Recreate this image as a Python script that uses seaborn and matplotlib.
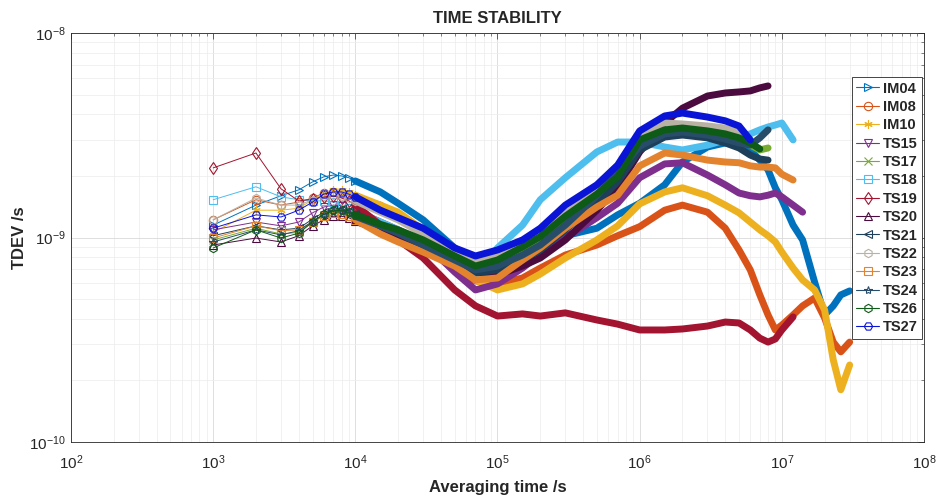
import numpy as np
import matplotlib
matplotlib.use("Agg")
import matplotlib.pyplot as plt
from matplotlib import font_manager
from matplotlib.lines import Line2D
from matplotlib.ticker import NullFormatter
import seaborn as sns

# averaging times (s), shared by all series (a series stops where its list ends)
TAU = [1e3, 2e3, 3e3, 4e3, 5e3, 6e3, 7e3, 8e3, 9e3, 1e4,
       1.5e4, 2e4, 3e4, 5e4, 7e4, 1e5, 1.5e5, 2e5, 3e5, 5e5, 7e5,
       1e6, 1.5e6, 2e6, 3e6, 4e6, 5e6, 6e6, 7e6, 8e6, 9e6, 1e7,
       1.2e7, 1.4e7, 1.7e7, 2e7, 2.3e7, 2.6e7, 3e7]

# TDEV in ns
IM04 = [1.15, 1.44, 1.60, 1.71, 1.87, 1.98, 2.02, 2.00, 1.96, 1.89,
        1.67, 1.47, 1.22, 0.889, 0.734, 0.709, 0.759, 0.849, 1.02, 1.11, 1.29,
        1.47, 1.81, 2.34, 2.77, 2.90, 2.87, 2.68, 2.39, 2.14, 1.75, 1.53,
        1.15, 0.973, 0.606, 0.418, 0.463, 0.524, 0.548]
IM08 = [1.22, 1.53, 1.44, 1.49, 1.56, 1.65, 1.67, 1.65, 1.61, 1.56,
        1.44, 1.29, 1.03, 0.709, 0.613, 0.593, 0.634, 0.709, 0.821, 0.919, 1.02,
        1.13, 1.36, 1.44, 1.33, 1.11, 0.869, 0.694, 0.524, 0.418, 0.353, 0.373,
        0.418, 0.463, 0.506, 0.404, 0.308, 0.276, 0.308]
IM10 = [1.06, 1.36, 1.36, 1.39, 1.53, 1.65, 1.71, 1.71, 1.67, 1.61,
        1.44, 1.33, 1.09, 0.794, 0.620, 0.554, 0.593, 0.663, 0.794, 0.973, 1.14,
        1.46, 1.67, 1.75, 1.60, 1.44, 1.32, 1.19, 1.09, 1.02, 0.951, 0.849,
        0.709, 0.620, 0.554, 0.442, 0.252, 0.180, 0.238]
TS15 = [1.09, 1.19, 1.14, 1.19, 1.32, 1.41, 1.44, 1.43, 1.39, 1.35,
        1.19, 1.09, 0.951, 0.678, 0.554, 0.593, 0.709, 0.830, 0.994, 1.25, 1.47,
        1.96, 2.29, 2.32, 2.02, 1.81, 1.65, 1.60, 1.58, 1.61, 1.65, 1.58,
        1.44, 1.33]
TS17 = [0.973, 1.11, 1.04, 1.06, 1.19, 1.29, 1.33, 1.33, 1.30, 1.26,
        1.13, 1.05, 0.930, 0.794, 0.709, 0.750, 0.869, 0.983, 1.25, 1.61, 2.00,
        2.93, 3.28, 3.36, 3.21, 3.10, 2.96, 2.83, 2.68, 2.74]
TS18 = [1.53, 1.77, 1.58, 1.53, 1.51, 1.51, 1.49, 1.44, 1.39, 1.33,
        1.19, 1.09, 0.919, 0.734, 0.648, 0.889, 1.15, 1.53, 1.96, 2.62, 2.93,
        2.93, 2.77, 2.68, 2.83, 3.00, 3.10, 3.21, 3.36, 3.47, 3.55, 3.63,
        3.00]
TS19 = [2.19, 2.59, 1.73, 1.51, 1.54, 1.58, 1.60, 1.56, 1.51, 1.44,
        1.15, 0.973, 0.794, 0.554, 0.463, 0.413, 0.423, 0.413, 0.428, 0.395, 0.377,
        0.353, 0.353, 0.357, 0.369, 0.386, 0.382, 0.353, 0.322, 0.308, 0.319, 0.353,
        0.409]
TS20 = [0.919, 0.994, 0.951, 1.02, 1.14, 1.22, 1.27, 1.27, 1.25, 1.20,
        1.09, 1.02, 0.889, 0.759, 0.678, 0.656, 0.725, 0.794, 0.973, 1.36, 1.75,
        2.62, 3.63, 4.29, 4.92, 5.09, 5.15, 5.21, 5.39, 5.51]
TS21 = [1.02, 1.14, 1.09, 1.11, 1.23, 1.33, 1.38, 1.38, 1.35, 1.30,
        1.15, 1.06, 0.930, 0.759, 0.671, 0.694, 0.776, 0.869, 1.09, 1.47, 1.87,
        2.68, 3.10, 3.17, 3.07, 2.90, 2.74, 2.53, 2.42, 2.39]
TS22 = [1.22, 1.56, 1.44, 1.44, 1.53, 1.60, 1.61, 1.60, 1.56, 1.51,
        1.33, 1.22, 1.04, 0.849, 0.759, 0.840, 0.930, 1.05, 1.30, 1.71, 2.19,
        3.17, 3.63, 3.59, 3.51, 3.43, 3.28, 2.96]
TS23 = [0.994, 1.14, 1.08, 1.09, 1.19, 1.27, 1.32, 1.30, 1.27, 1.22,
        1.04, 0.951, 0.849, 0.725, 0.620, 0.634, 0.776, 0.889, 1.11, 1.41, 1.61,
        2.24, 2.59, 2.53, 2.39, 2.34, 2.32, 2.24, 2.21, 2.21, 2.19, 2.04,
        1.91]
TS24 = [0.951, 1.09, 1.03, 1.08, 1.20, 1.30, 1.35, 1.35, 1.32, 1.27,
        1.14, 1.05, 0.919, 0.776, 0.694, 0.725, 0.821, 0.919, 1.15, 1.60, 2.09,
        2.80, 3.21, 3.28, 3.17, 3.03, 2.90, 2.83, 3.07, 3.36]
TS26 = [0.889, 1.09, 0.994, 1.05, 1.19, 1.30, 1.36, 1.36, 1.33, 1.29,
        1.16, 1.09, 0.973, 0.812, 0.725, 0.776, 0.899, 1.01, 1.27, 1.63, 1.98,
        3.00, 3.36, 3.43, 3.32, 3.21, 3.07, 2.90, 2.71]
TS27 = [1.11, 1.29, 1.26, 1.36, 1.49, 1.63, 1.67, 1.67, 1.63, 1.58,
        1.36, 1.25, 1.11, 0.889, 0.812, 0.869, 0.973, 1.11, 1.44, 1.81, 2.26,
        3.32, 3.93, 4.06, 3.88, 3.72, 3.51, 3.00]

NAMES = ['IM04', 'IM08', 'IM10', 'TS15', 'TS17', 'TS18', 'TS19',
         'TS20', 'TS21', 'TS22', 'TS23', 'TS24', 'TS26', 'TS27']
SERIES = [IM04, IM08, IM10, TS15, TS17, TS18, TS19,
          TS20, TS21, TS22, TS23, TS24, TS26, TS27]
COLORS = ['#0072BD', '#D95319', '#EDB120', '#7E2F8E', '#77AC30', '#4DBEEE', '#A2142F',
          '#4C0B3E', '#1E3F5A', '#B8B1A4', '#E3832D', '#284D6B', '#0E5A17', '#0A14D6']
MARKERS = ['>', 'o', (6, 2, 0), 'v', 'x', 's', 'd',
           '^', '<', 'h', 's', '*', 'h', 'H']

sns.set_style('white')
names = {f.name for f in font_manager.fontManager.ttflist}
FONT = 'Liberation Sans Narrow' if 'Liberation Sans Narrow' in names else 'Liberation Sans'
plt.rcParams['font.family'] = [FONT, 'DejaVu Sans']
plt.rcParams['mathtext.default'] = 'regular'

fig = plt.figure(figsize=(9.39, 4.95), dpi=100)
ax = fig.add_axes([71 / 939, 53 / 495, 853 / 939, 409 / 495])
ax.set_xscale('log')
ax.set_yscale('log')

tau = np.array(TAU)
n_early = 10   # 1e3 .. 1e4: single markers still visible
for name, vals, c, m in zip(NAMES, SERIES, COLORS, MARKERS):
    y = np.array(vals) * 1e-9
    x = tau[:len(y)]
    # dense part: markers merge into a thick band
    sns.lineplot(x=x[n_early - 1:], y=y[n_early - 1:], ax=ax, color=c, lw=5,
                 estimator=None, sort=False, solid_capstyle='round')
    # sparse part: thin line with open markers
    sns.lineplot(x=x[:n_early], y=y[:n_early], ax=ax, color=c, lw=0.7,
                 marker=m, markersize=6, markerfacecolor='none',
                 markeredgecolor=c, markeredgewidth=0.8,
                 estimator=None, sort=False)

ax.set_xlim(1e2, 1e8)
ax.set_ylim(1e-10, 1e-8)
ax.xaxis.set_minor_formatter(NullFormatter())
ax.yaxis.set_minor_formatter(NullFormatter())
ax.grid(True, which='major', color='#d9d9d9', lw=0.6)
ax.grid(True, which='minor', color='#ececec', lw=0.5)
ax.tick_params(which='both', direction='in', top=True, right=True,
               labelsize=11, colors='#262626')
ax.tick_params(axis='x', which='major', pad=8)
ax.tick_params(which='major', length=4, width=0.5)
ax.tick_params(which='minor', length=2.5, width=0.4)
for s in ax.spines.values():
    s.set_color('#262626')
    s.set_linewidth(0.6)

ax.set_title('TIME STABILITY', fontsize=12, fontweight='bold', pad=7)
ax.set_xlabel('Averaging time /s', fontsize=12, fontweight='bold', labelpad=6)
ax.set_ylabel('TDEV /s', fontsize=12, fontweight='bold', labelpad=2)

handles = [Line2D([], [], color=c, lw=0.8, marker=m, markersize=6,
                  markerfacecolor='none', markeredgecolor=c, markeredgewidth=0.8)
           for c, m in zip(COLORS, MARKERS)]
leg = ax.legend(handles, NAMES, loc='upper right', bbox_to_anchor=(0.998, 0.892),
                borderaxespad=0, fancybox=False, framealpha=1, edgecolor='#262626',
                prop={'weight': 'bold', 'size': 10.5}, handlelength=1.6,
                handletextpad=0.25, labelspacing=0.3, borderpad=0.3)
leg.get_frame().set_linewidth(0.6)

fig.savefig('out.png', dpi=100)
